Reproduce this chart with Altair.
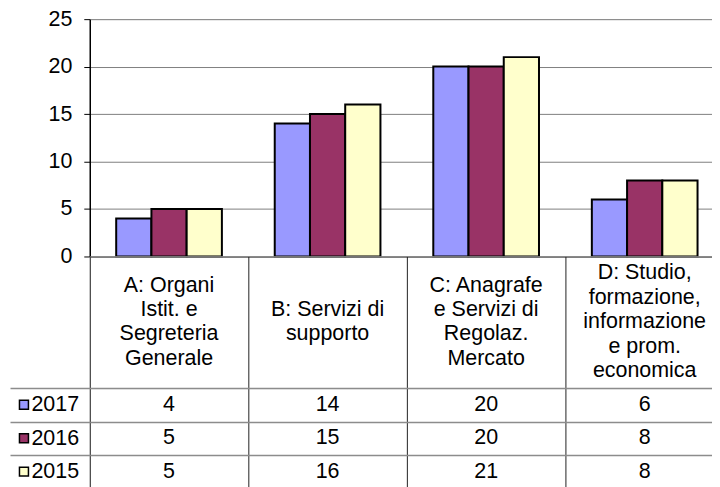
import altair as alt
import pandas as pd

categories = [
    "A: Organi Istit. e Segreteria Generale",
    "B: Servizi di supporto",
    "C: Anagrafe e Servizi di Regolaz. Mercato",
    "D: Studio, formazione, informazione e prom. economica",
]
category_lines = [
    ["A: Organi", "Istit. e", "Segreteria", "Generale"],
    ["B: Servizi di", "supporto"],
    ["C: Anagrafe", "e Servizi di", "Regolaz.", "Mercato"],
    ["D: Studio,", "formazione,", "informazione", "e prom.", "economica"],
]
years = ["2017", "2016", "2015"]
values_2017 = [4, 14, 20, 6]
values_2016 = [5, 15, 20, 8]
values_2015 = [5, 16, 21, 8]
colors = ["#9999FF", "#993366", "#FFFFCC"]

rows_data = []
for yr, vals in zip(years, [values_2017, values_2016, values_2015]):
    for cat, v in zip(categories, vals):
        rows_data.append({"category": cat, "year": yr, "value": v})
df = pd.DataFrame(rows_data)

header_rows = []
for cat, lines in zip(categories, category_lines):
    n = len(lines)
    for i, line in enumerate(lines):
        header_rows.append({"category": cat, "line": line, "pos": i - (n - 1) / 2})
header_df = pd.DataFrame(header_rows)
key_df = pd.DataFrame({"year": years})

FONT = "Liberation Sans"
FS = 21.5
W = 636
HEADER_H = 132
LINE_H = 24.5

x_scale = alt.Scale(domain=categories, paddingInner=0, paddingOuter=0)
color_scale = alt.Scale(domain=years, range=colors)

bars = alt.Chart(df).mark_bar(stroke="black", strokeWidth=2).encode(
    x=alt.X("category:N", sort=categories, scale=x_scale,
            axis=alt.Axis(labels=False, ticks=False, title=None, grid=False,
                          domainColor="black", domainWidth=1.5)),
    xOffset=alt.XOffset("year:N", sort=years,
                        scale=alt.Scale(domain=years, paddingInner=0, paddingOuter=0.75)),
    y=alt.Y("value:Q", scale=alt.Scale(domain=[0, 25]),
            axis=alt.Axis(values=[0, 5, 10, 15, 20, 25], title=None, grid=True,
                          gridColor="#808080", gridWidth=1, tickSize=6, tickColor="black",
                          labelPadding=12, labelFontSize=FS, labelColor="black",
                          labelFont=FONT, domainColor="black", domainWidth=1.5)),
    color=alt.Color("year:N", sort=years, scale=color_scale, legend=None),
).properties(width=W, height=238)

half = HEADER_H / 2 / LINE_H
header = alt.Chart(header_df).mark_text(
    fontSize=FS, font=FONT, baseline="middle", color="black"
).encode(
    x=alt.X("category:N", sort=categories, scale=x_scale,
            axis=alt.Axis(labels=False, ticks=False, domain=False, grid=True,
                          tickBand="extent", gridColor="#222222", gridWidth=1, title=None)),
    y=alt.Y("pos:Q", scale=alt.Scale(domain=[-half, half], reverse=True, nice=False, zero=False),
            axis=None),
    text=alt.Text("line:N"),
).properties(width=W, height=HEADER_H)

y_rows = alt.Y("year:N", sort=years, scale=alt.Scale(domain=years, paddingInner=0, paddingOuter=0),
               axis=alt.Axis(title=None, tickBand="extent", grid=True, gridColor="#8c8c8c",
                             gridWidth=1.5, tickSize=80, tickColor="#8c8c8c", tickWidth=1.5,
                             domain=False, labelAlign="left", labelPadding=-21,
                             labelBaseline="middle", labelFontSize=FS,
                             labelFont=FONT, labelColor="black"))

cells = alt.Chart(df).mark_text(fontSize=FS, font=FONT, color="black", baseline="middle").encode(
    x=alt.X("category:N", sort=categories, scale=x_scale,
            axis=alt.Axis(labels=False, ticks=False, domain=False, grid=True,
                          tickBand="extent", gridColor="#222222", gridWidth=1, title=None)),
    y=y_rows,
    text=alt.Text("value:Q"),
)

keys = alt.Chart(key_df).mark_point(
    shape="square", filled=True, size=81, stroke="black", strokeWidth=1.5, opacity=1
).encode(
    x=alt.value(-66),
    y=alt.Y("year:N", sort=years),
    fill=alt.Fill("year:N", sort=years, scale=color_scale, legend=None),
)

table = alt.layer(cells, keys).properties(width=W, height=100.5)

chart = alt.vconcat(bars, header, table, spacing=0, bounds="flush").properties(
    padding={"left": 0, "top": -1.5, "right": -13, "bottom": 0}
).configure_view(stroke=None).configure(font=FONT)

chart.save("out.html", embed_options={"renderer": "svg", "actions": False})
